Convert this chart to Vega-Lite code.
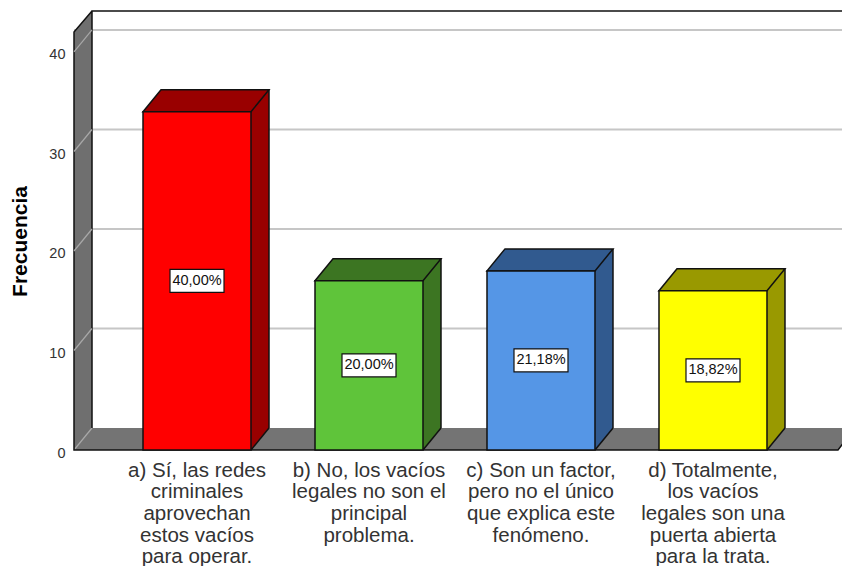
{
"$schema":"https://vega.github.io/schema/vega-lite/v6.json",
"width":768,"height":439,
"autosize":{"type":"none"},
"padding":{"left":74,"top":11,"right":0,"bottom":116},
"background":"white",
"config":{"view":{"stroke":null},"font":"Liberation Sans"},
"datasets":{
"bars":[
{"category":"a) Sí, las redes\ncriminales\naprovechan\nestos vacíos\npara operar.","value":34,"pct":"40,00%"},
{"category":"b) No, los vacíos\nlegales no son el\nprincipal\nproblema.","value":17,"pct":"20,00%"},
{"category":"c) Son un factor,\npero no el único\nque explica este\nfenómeno.","value":18,"pct":"21,18%"},
{"category":"d) Totalmente,\nlos vacíos\nlegales son una\npuerta abierta\npara la trata.","value":16,"pct":"18,82%"}
],
"grid":[{"v":10},{"v":20},{"v":30},{"v":40}],
"base":[{"v":0}]
},
"resolve":{"scale":{"y":"independent","color":"independent"}},
"layer":[
{"data":{"name":"grid"},
 "mark":{"type":"rule","yOffset":-22,"stroke":"#c6c6c6","strokeWidth":2},
 "encoding":{"y":{"field":"v","type":"quantitative","axis":null,"scale":{"domain":[0,44.12]}}}},
{"data":{"name":"base"},
 "mark":{"type":"point","shape":"M-384 0 L-367 -22 L397 -22 L380 0 Z","size":4,"filled":true,"opacity":1,"fill":"#747474","stroke":null},
 "encoding":{"y":{"field":"v","type":"quantitative","axis":null,"scale":{"domain":[0,44.12]}}}},
{"data":{"name":"base"},
 "mark":{"type":"point","shape":"M-384 0 L-366 -22 L-366 -439 L-384 -418 Z","size":4,"filled":true,"opacity":1,"fill":"#6f6f6f","stroke":null},
 "encoding":{"y":{"field":"v","type":"quantitative","axis":null,"scale":{"domain":[0,44.12]}}}},
{"data":{"name":"base"},
 "mark":{"type":"point","shape":"M-384 0 L-366 -22","size":4,"filled":false,"opacity":1,"stroke":"#a8a8a8","strokeWidth":1.2},
 "encoding":{"y":{"field":"v","type":"quantitative","axis":null,"scale":{"domain":[0,44.12]}}}},
{"data":{"name":"base"},
 "mark":{"type":"point","shape":"M-366 -22 L-366 -439 L400 -439 M-366 -439 L-384 -418 L-384 0 L380 0 L397 -22","size":4,"filled":false,"opacity":1,"stroke":"#111111","strokeWidth":1.5},
 "encoding":{"y":{"field":"v","type":"quantitative","axis":null,"scale":{"domain":[0,44.12]}}}},
{"data":{"name":"grid"},
 "mark":{"type":"point","shape":"M-384 0 L-366 -22","size":4,"filled":false,"opacity":1,"stroke":"#a8a8a8","strokeWidth":1.2},
 "encoding":{"y":{"field":"v","type":"quantitative","axis":null,"scale":{"domain":[0,44.12]}}}},
{"data":{"name":"bars"},
 "mark":{"type":"bar","size":108,"xOffset":18,"yOffset":-22,"y2Offset":-22,"stroke":null},
 "encoding":{
  "x":{"field":"category","type":"nominal","sort":null,"scale":{"paddingInner":0,"paddingOuter":0.2326,"align":0.4625},"axis":{"title":null,"domain":false,"ticks":false,"labelAngle":0,"labelAlign":"center","labelBaseline":"top","labelPadding":10,"labelFontSize":20.5,"labelColor":"#333333","labelLineHeight":21.7,"labelLimit":1000,"labelOverlap":false,"labelExpr":"split(datum.label,'\\n')"}},
  "y":{"field":"value","type":"quantitative","stack":null,"axis":null,"scale":{"domain":[0,44.12]}},
  "y2":{"datum":0},
  "color":{"field":"category","type":"nominal","sort":null,"legend":null,"scale":{"range":["#990000","#3c7522","#315a8f","#999900"]}}}},
{"data":{"name":"bars"},
 "mark":{"type":"point","shape":"M54 0 L72 -22 L72 -30 L54 -30 Z","size":4,"filled":true,"opacity":1,"stroke":null},
 "encoding":{
  "x":{"field":"category","type":"nominal","sort":null},
  "y":{"datum":0,"type":"quantitative","axis":null,"scale":{"domain":[0,44.12]}},
  "color":{"field":"category","type":"nominal","sort":null,"legend":null,"scale":{"range":["#990000","#3c7522","#315a8f","#999900"]}}}},
{"data":{"name":"bars"},
 "mark":{"type":"point","shape":"M-54 0 L-36 -22 L72 -22 L54 0 Z","size":4,"filled":true,"opacity":1,"stroke":"#111111","strokeWidth":1.5},
 "encoding":{
  "x":{"field":"category","type":"nominal","sort":null},
  "y":{"field":"value","type":"quantitative","axis":null,"scale":{"domain":[0,44.12]}},
  "color":{"field":"category","type":"nominal","sort":null,"legend":null,"scale":{"range":["#990000","#3c7522","#315a8f","#999900"]}}}},
{"data":{"name":"bars"},
 "mark":{"type":"rule","xOffset":72,"yOffset":-22,"y2Offset":-22,"stroke":"#111111","strokeWidth":1.5},
 "encoding":{
  "x":{"field":"category","type":"nominal","sort":null},
  "y":{"field":"value","type":"quantitative","axis":null,"scale":{"domain":[0,44.12]}},
  "y2":{"datum":0}}},
{"data":{"name":"bars"},
 "mark":{"type":"point","shape":"M54 0 L72 -22","size":4,"filled":false,"opacity":1,"stroke":"#111111","strokeWidth":1.5},
 "encoding":{
  "x":{"field":"category","type":"nominal","sort":null},
  "y":{"datum":0,"type":"quantitative","axis":null,"scale":{"domain":[0,44.12]}}}},
{"data":{"name":"bars"},
 "mark":{"type":"bar","size":108,"stroke":"#111111","strokeWidth":1.5},
 "encoding":{
  "x":{"field":"category","type":"nominal","sort":null},
  "y":{"field":"value","type":"quantitative","stack":null,"title":"Frecuencia","scale":{"domain":[0,44.12]},
   "axis":{"values":[0,10,20,30,40],"grid":false,"domain":false,"ticks":false,"labelPadding":9,"labelFontSize":14.5,"labelColor":"#333333","labelOffset":3,"titleFontSize":21,"titleFontWeight":"bold","titleColor":"#000000","titleX":-54,"titleY":230,"titleAngle":-90,"titleAlign":"center","titleBaseline":"middle"}},
  "color":{"field":"category","type":"nominal","sort":null,"legend":null,"scale":{"range":["#ff0000","#5fc43a","#5596e6","#ffff00"]}}}},
{"data":{"name":"bars"},
 "mark":{"type":"point","shape":"M-27 -11.5 L27 -11.5 L27 11.5 L-27 11.5 Z","size":4,"filled":true,"opacity":1,"fill":"#ffffff","stroke":"#111111","strokeWidth":1.2},
 "encoding":{
  "x":{"field":"category","type":"nominal","sort":null},
  "y":{"field":"value","type":"quantitative","axis":null,"scale":{"domain":[0,88.24]}}}},
{"data":{"name":"bars"},
 "mark":{"type":"text","fontSize":14.5,"color":"#111111","baseline":"middle","align":"center"},
 "encoding":{
  "x":{"field":"category","type":"nominal","sort":null},
  "y":{"field":"value","type":"quantitative","axis":null,"scale":{"domain":[0,88.24]}},
  "text":{"field":"pct"}}}
]
}
